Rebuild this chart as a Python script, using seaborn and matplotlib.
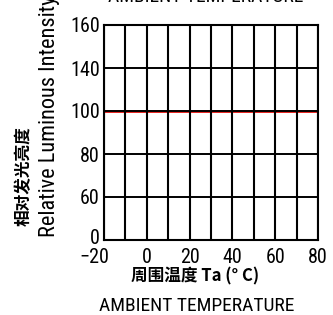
import matplotlib
matplotlib.use("Agg")
import matplotlib.pyplot as plt
import matplotlib.transforms as mtransforms
import seaborn as sns
import numpy as np
import pandas as pd

# data
x_ticks = [-20, 0, 20, 40, 60, 80]
y_tick_labels = [0, 60, 80, 100, 140, 160]
temps = [-20, 80]
intensity = [100, 100]

sns.set_theme(style="white")
narrow = ['Roboto Condensed', 'DejaVu Sans']
cjk = ['Noto Sans CJK SC', 'DejaVu Sans']
plt.rcParams['font.family'] = narrow

W, H = 333, 315
fig = plt.figure(figsize=(W / 100, H / 100), dpi=100)
ax = fig.add_axes([104 / W, 1 - 240 / H, (318 - 104) / W, (240 - 25) / H])

# y axis has evenly spaced ticks with irregular labels
ypos = np.arange(len(y_tick_labels))
df = pd.DataFrame({"T": temps,
                   "pos": np.interp(intensity, y_tick_labels, ypos)})

ax.set_xlim(-20, 80)
ax.set_ylim(0, len(y_tick_labels) - 1)
for xv in np.arange(-20, 81, 10):
    ax.axvline(xv, color='black', lw=1.5, zorder=2)
for yv in ypos:
    ax.axhline(yv, color='black', lw=1.4, zorder=2)

sns.lineplot(data=df, x="T", y="pos", color='#e8201c', lw=2.1, ax=ax, zorder=1)

ax.set_xticks(x_ticks)
ax.set_xticklabels([("\u2212" + str(-v)) if v < 0 else str(v) for v in x_ticks])
ax.set_yticks(ypos)
ax.set_yticklabels([str(v) for v in y_tick_labels])
ax.tick_params(axis='x', length=0, labelsize=14.5, colors='black', pad=6)
ax.tick_params(axis='y', length=0, labelsize=14.5, colors='black', pad=3)
# shift the first x label slightly left, first y label slightly up
fig.canvas.draw()
xl = ax.get_xticklabels()[0]
xl.set_transform(xl.get_transform() + mtransforms.ScaledTranslation(-10 / 100, 0, fig.dpi_scale_trans))
yl = ax.get_yticklabels()[0]
yl.set_transform(yl.get_transform() + mtransforms.ScaledTranslation(0, 4 / 100, fig.dpi_scale_trans))
ax.set_xlabel("")
ax.set_ylabel("")
for s in ax.spines.values():
    s.set_color('black')
    s.set_linewidth(1.5)
    s.set_zorder(3)

def px(x, y):
    return x / W, 1 - y / H

fig.text(*px(206, -3), "AMBIENT TEMPERATURE", ha='center', va='center',
         fontsize=14, family=narrow, color='black')
fig.text(*px(195, 276), "周围温度 Ta (° C)", ha='center', va='center',
         fontsize=12, family=cjk, fontweight='bold', color='black')
fig.text(*px(197, 306), "AMBIENT TEMPERATURE", ha='center', va='center',
         fontsize=14, family=narrow, color='black')
fig.text(*px(50, 116), "Relative Luminous Intensity", ha='center', va='center',
         rotation=90, fontsize=16, family=narrow, color='black')
fig.text(*px(24, 176), "相对发光亮度", ha='center', va='center',
         rotation=90, fontsize=12, family=cjk, fontweight='bold', color='black')

fig.savefig("out.png", dpi=100)
